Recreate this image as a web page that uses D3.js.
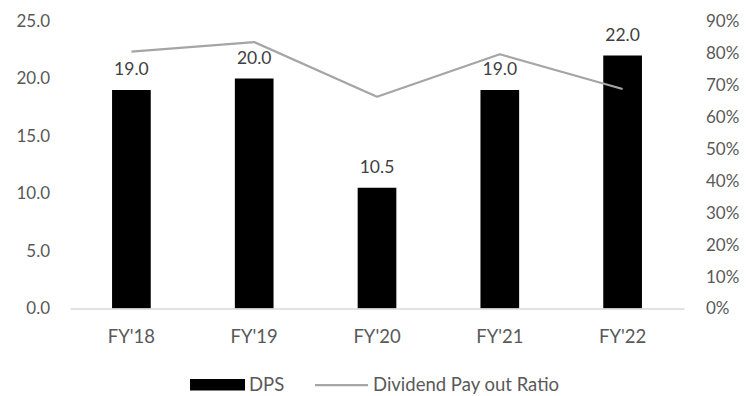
<!DOCTYPE html>
<html>
<head>
<meta charset="utf-8">
<script src="https://cdn.jsdelivr.net/npm/d3@7"></script>
<style>
  body { margin: 0; background: #fff; }
  text { font-family: "Lato", "Open Sans", sans-serif; }
</style>
</head>
<body>
<div id="chart"></div>
<script>
// data
var years = ["FY'18", "FY'19", "FY'20", "FY'21", "FY'22"];
var dps = [19.0, 20.0, 10.5, 19.0, 22.0];
var payout = [0.804, 0.834, 0.663, 0.796, 0.687];
var leftTicks = [0, 5, 10, 15, 20, 25];
var rightTicks = [0, 0.1, 0.2, 0.3, 0.4, 0.5, 0.6, 0.7, 0.8, 0.9];

var W = 752, H = 396;
var svg = d3.select("#chart").append("svg")
    .attr("width", W)
    .attr("height", H);

var x = d3.scaleBand().domain(years).range([70, 684])
    .paddingInner(0.685).paddingOuter(0.3425);
var y = d3.scaleLinear().domain([0, 25]).range([308.5, 21]);
var y2 = d3.scaleLinear().domain([0, 0.9]).range([308.5, 21]);

// left axis labels
var yAxis = d3.axisLeft(y).tickValues(leftTicks).tickSize(0).tickPadding(0)
    .tickFormat(d3.format(".1f"));
svg.append("g")
    .attr("transform", "translate(50,0)")
    .call(yAxis)
    .call(function(g) { g.select(".domain").remove(); })
    .selectAll("text")
      .attr("fill", "#595959")
      .style("font-size", "17px");

// right axis labels
var y2Axis = d3.axisRight(y2).tickValues(rightTicks).tickSize(0).tickPadding(0)
    .tickFormat(d3.format(".0%"));
svg.append("g")
    .attr("transform", "translate(706,0)")
    .call(y2Axis)
    .call(function(g) { g.select(".domain").remove(); })
    .selectAll("text")
      .attr("fill", "#595959")
      .style("font-size", "17px");

// bars
svg.selectAll(".bar")
  .data(dps)
  .enter().append("rect")
    .attr("class", "bar")
    .attr("x", function(d, i) { return x(years[i]); })
    .attr("y", function(d) { return y(d); })
    .attr("width", x.bandwidth())
    .attr("height", function(d) { return y(0) - y(d); })
    .attr("fill", "#000");

// x axis
var xAxis = d3.axisBottom(x).tickSize(0).tickPadding(0);
var gx = svg.append("g")
    .attr("transform", "translate(0," + y(0) + ")")
    .call(xAxis);
gx.select(".domain").attr("stroke", "#d9d9d9").attr("stroke-width", 1.5);
gx.selectAll("text")
    .attr("fill", "#595959")
    .attr("dy", 0)
    .attr("y", 34)
    .style("font-size", "18.5px");

// payout line
var line = d3.line()
    .x(function(d, i) { return x(years[i]) + x.bandwidth() / 2; })
    .y(function(d) { return y2(d); });
svg.append("path")
    .datum(payout)
    .attr("d", line)
    .attr("fill", "none")
    .attr("stroke", "#a5a5a5")
    .attr("stroke-width", 2.25)
    .attr("stroke-linejoin", "round");

// bar labels
svg.selectAll(".lbl")
  .data(dps)
  .enter().append("text")
    .attr("class", "lbl")
    .attr("x", function(d, i) { return x(years[i]) + x.bandwidth() / 2; })
    .attr("y", function(d) { return y(d) - 15; })
    .attr("text-anchor", "middle")
    .attr("fill", "#404040")
    .style("font-size", "17.5px")
    .text(function(d) { return d3.format(".1f")(d); });

// legend
var lg = svg.append("g");
lg.append("rect").attr("x", 190).attr("y", 379).attr("width", 55).attr("height", 11.5).attr("fill", "#000");
lg.append("text").attr("x", 249).attr("y", 391).attr("fill", "#595959").style("font-size", "18.5px").text("DPS");
lg.append("line").attr("x1", 315).attr("x2", 368).attr("y1", 385).attr("y2", 385)
    .attr("stroke", "#a5a5a5").attr("stroke-width", 2.25);
lg.append("text").attr("x", 373).attr("y", 391).attr("fill", "#595959").style("font-size", "18.5px").text("Dividend Pay out Ratio");
</script>
</body>
</html>
